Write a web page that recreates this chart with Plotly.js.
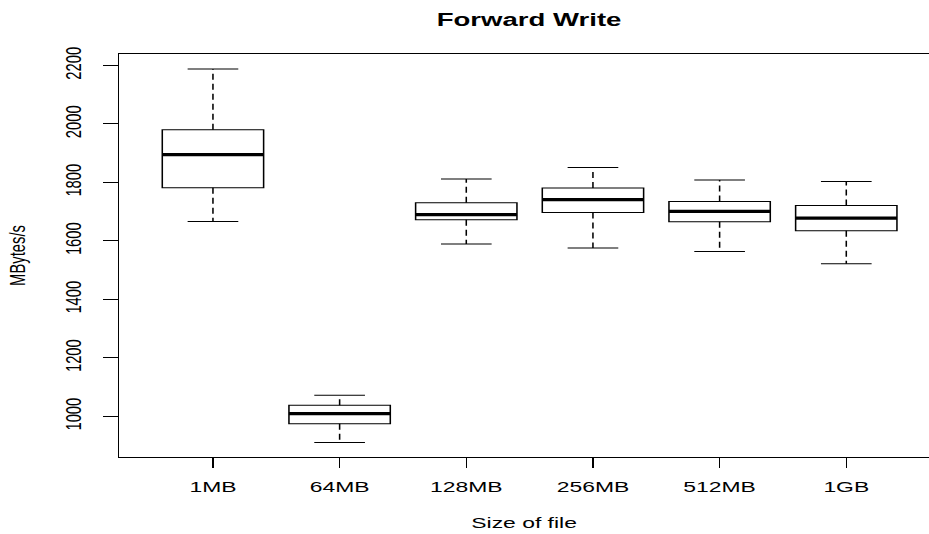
<!DOCTYPE html>
<html><head><meta charset="utf-8">
<script src="https://cdn.plot.ly/plotly-3.0.1.min.js"></script>
<style>
html,body{margin:0;padding:0;background:#fff;overflow:hidden;}
#wrap{width:929px;height:534px;overflow:hidden;position:relative;}
#chart{width:600px;height:534px;transform:scaleX(1.548333);transform-origin:0 0;}
</style></head><body><div id="wrap"><div id="chart"></div></div>
<script>
// Data (MBytes/s)
const categories   = ['1MB', '64MB', '128MB', '256MB', '512MB', '1GB'];
const lowerWhisker = [1666,  911, 1589, 1576, 1564, 1522];
const q1Values     = [1782,  975, 1672, 1697, 1665, 1635];
const medianValues = [1895, 1009, 1690, 1741, 1701, 1678];
const q3Values     = [1980, 1038, 1730, 1781, 1735, 1721];
const upperWhisker = [2188, 1072, 1812, 1851, 1808, 1803];
const yTickValues  = [1000, 1200, 1400, 1600, 1800, 2000, 2200];

const positions = categories.map((c, i) => i + 1);
const FONT = 'Liberation Sans, Arial, Helvetica, sans-serif';

// Boxes (whiskers drawn separately, dashed, as in R's boxplot)
const boxTrace = {
  type: 'box',
  x: positions,
  q1: q1Values,
  median: medianValues,
  q3: q3Values,
  lowerfence: q1Values,
  upperfence: q3Values,
  width: 0.8,
  whiskerwidth: 0,
  fillcolor: '#ffffff',
  line: {color: '#000000', width: 1},
  boxpoints: false,
  hoverinfo: 'skip',
  showlegend: false
};

// Dashed whiskers
const wx = [], wy = [];
positions.forEach((p, i) => {
  wx.push(p, p, null, p, p, null);
  wy.push(q3Values[i], upperWhisker[i], null, q1Values[i], lowerWhisker[i], null);
});
const whiskerTrace = {
  type: 'scatter', mode: 'lines', x: wx, y: wy,
  line: {color: '#000000', width: 1, dash: '6px,4px'},
  hoverinfo: 'skip', showlegend: false
};

// Staples
const sx = [], sy = [];
positions.forEach((p, i) => {
  sx.push(p - 0.2, p + 0.2, null, p - 0.2, p + 0.2, null);
  sy.push(upperWhisker[i], upperWhisker[i], null, lowerWhisker[i], lowerWhisker[i], null);
});
const stapleTrace = {
  type: 'scatter', mode: 'lines', x: sx, y: sy,
  line: {color: '#000000', width: 1},
  hoverinfo: 'skip', showlegend: false
};

// Thick medians
const mx = [], my = [];
positions.forEach((p, i) => {
  mx.push(p - 0.4, p + 0.4, null);
  my.push(medianValues[i], medianValues[i], null);
});
const medianTrace = {
  type: 'scatter', mode: 'lines', x: mx, y: my,
  line: {color: '#000000', width: 3.3},
  hoverinfo: 'skip', showlegend: false
};

const layout = {
  width: 600, height: 534,
  margin: {l: 77, r: 0, t: 54, b: 77},
  paper_bgcolor: '#ffffff', plot_bgcolor: '#ffffff',
  font: {family: FONT, color: '#000000', size: 14.8},
  title: {
    text: '<b>Forward Write</b>',
    font: {family: FONT, size: 17.8, color: '#000000'},
    x: 0.5695, xref: 'container', xanchor: 'center',
    y: 1 - 20 / 534, yref: 'container', yanchor: 'middle'
  },
  xaxis: {
    range: [0.26, 6.653],
    tickmode: 'array', tickvals: positions, ticktext: categories,
    showgrid: false, zeroline: false,
    showline: true, mirror: true, linecolor: '#000000', linewidth: 1,
    ticks: 'outside', ticklen: 10, tickwidth: 1, tickcolor: '#000000',
    tickfont: {family: FONT, size: 14.8, color: '#000000'},
    ticklabelstandoff: 6,
    title: {text: 'Size of file', font: {family: FONT, size: 14.8, color: '#000000'}, standoff: 23},
    automargin: false, fixedrange: true
  },
  yaxis: {
    range: [861, 2239],
    tickmode: 'array', tickvals: yTickValues,
    tickangle: -90,
    showgrid: false, zeroline: false,
    showline: true, mirror: false, linecolor: '#000000', linewidth: 1,
    ticks: 'outside', ticklen: 9.5, tickwidth: 1, tickcolor: '#000000',
    tickfont: {family: FONT, size: 14.8, color: '#000000'},
    ticklabelstandoff: 8,
    title: {text: 'MBytes/s', font: {family: FONT, size: 14.8, color: '#000000'}, standoff: 19},
    automargin: false, fixedrange: true
  },
  showlegend: false
};

Plotly.newPlot('chart', [boxTrace, whiskerTrace, stapleTrace, medianTrace], layout,
  {staticPlot: true, displayModeBar: false});
</script>
</body></html>
